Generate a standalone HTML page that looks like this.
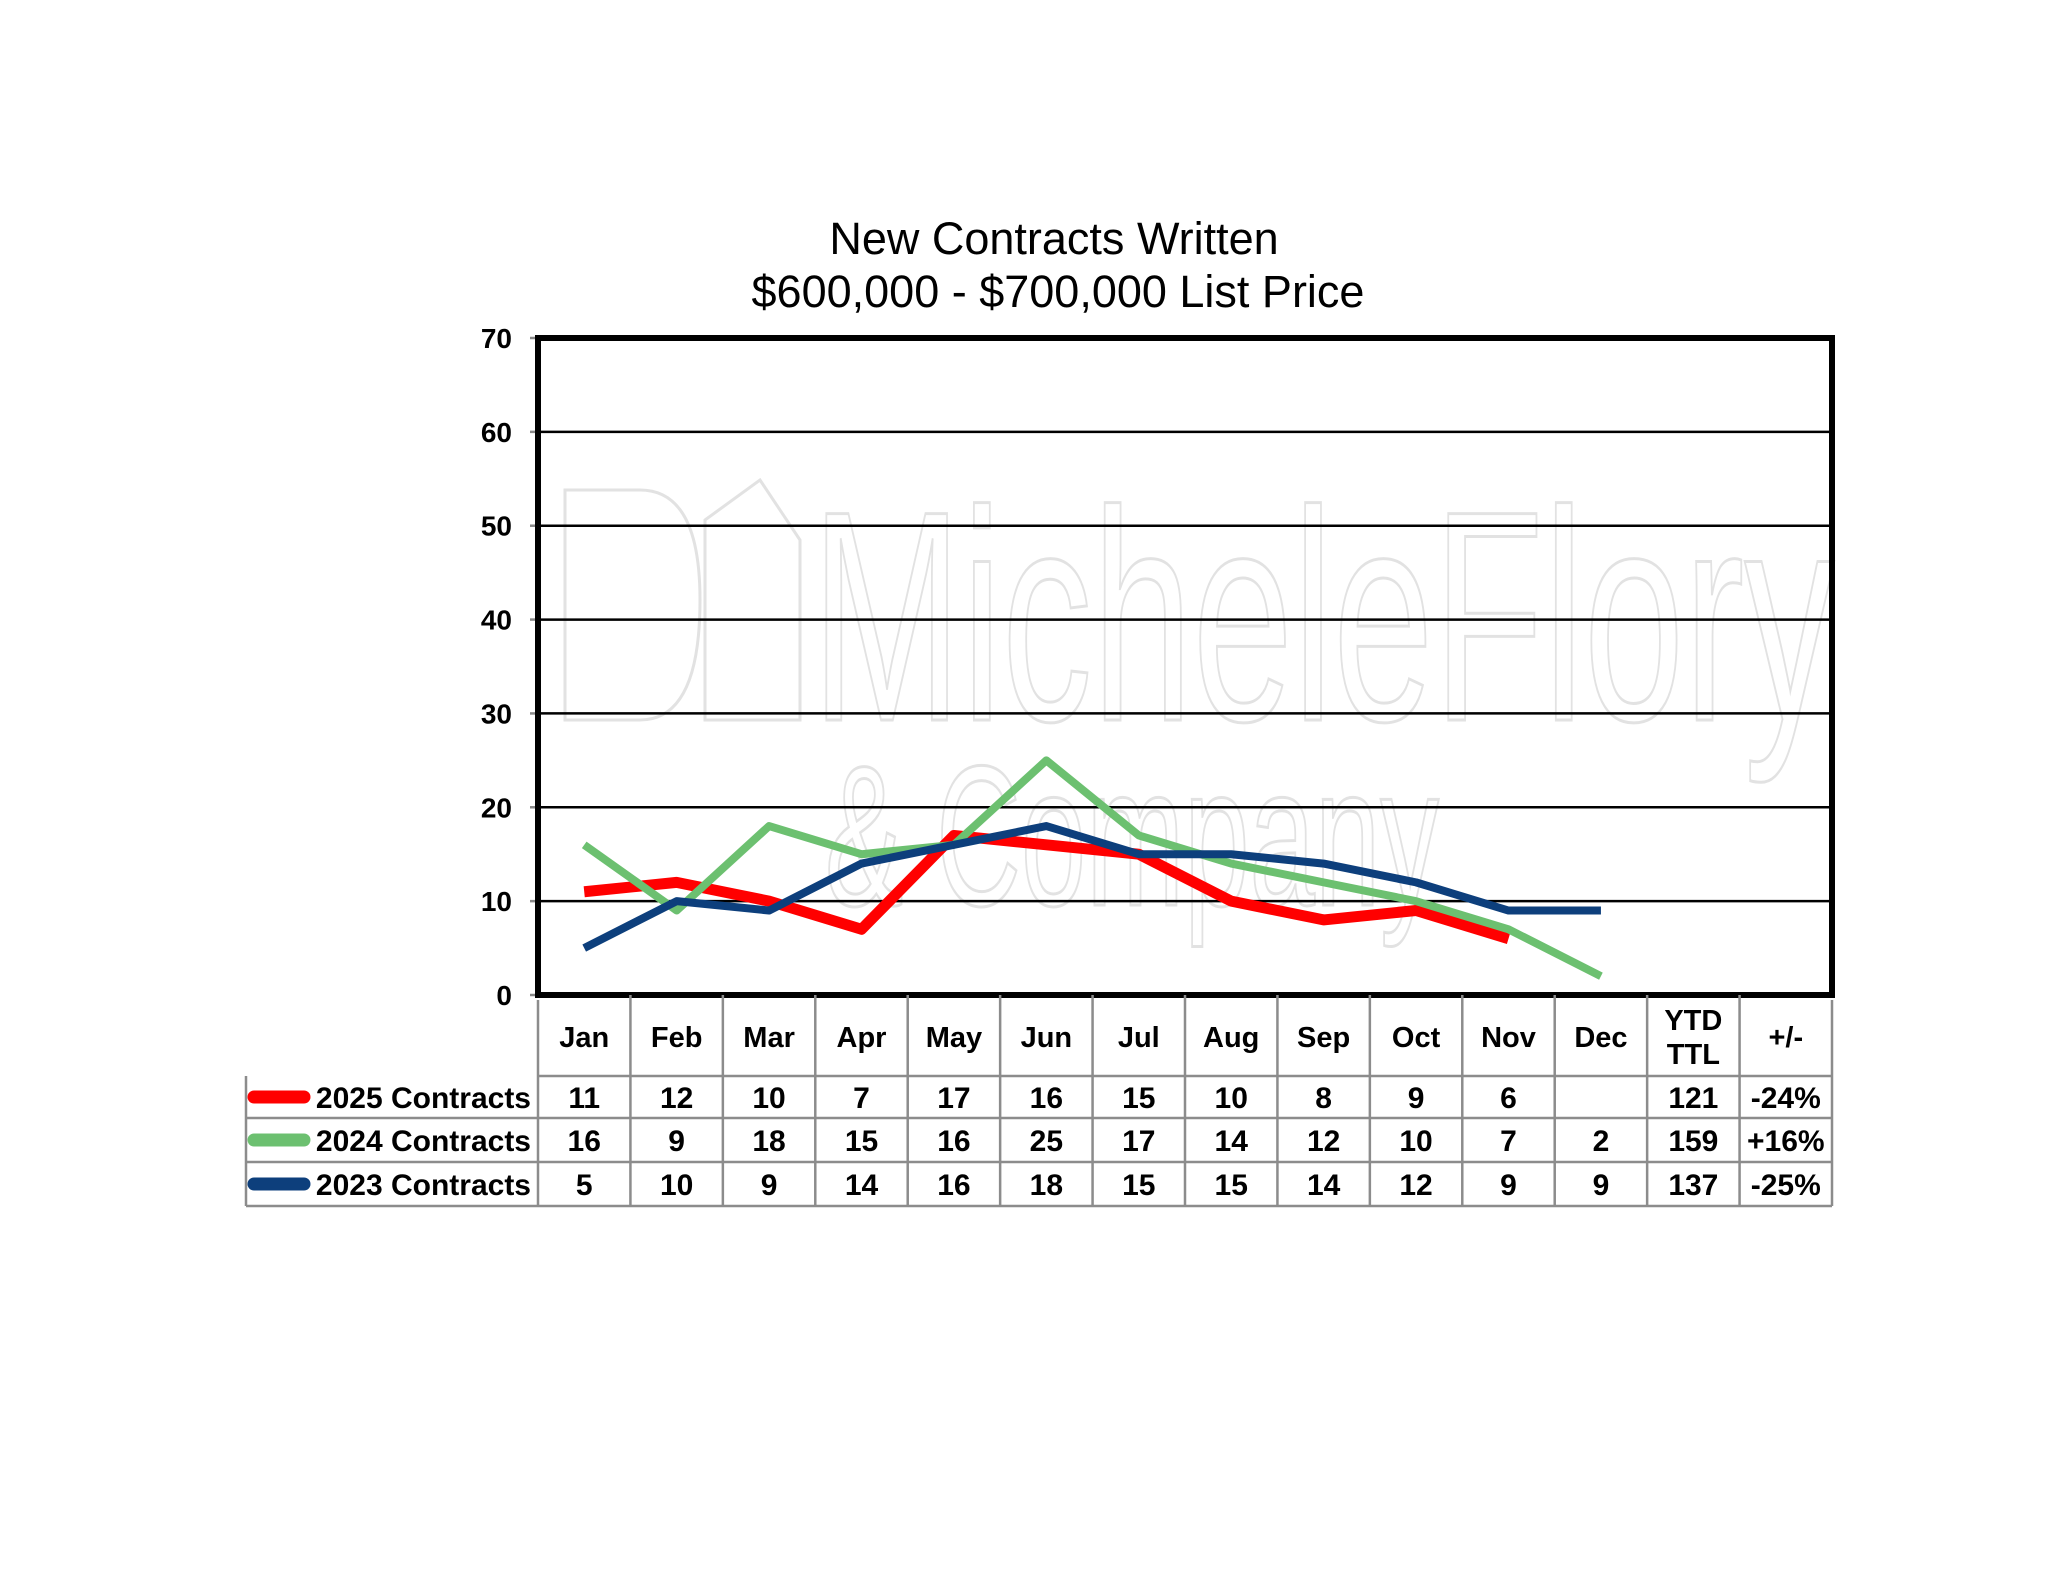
<!DOCTYPE html>
<html><head><meta charset="utf-8"><style>
html,body{margin:0;padding:0;background:#fff;}
svg{display:block;}
text{font-family:"Liberation Sans",Arial,sans-serif;}
</style></head><body>
<svg id="s" width="2048" height="1583" viewBox="0 0 2048 1583" xmlns="http://www.w3.org/2000/svg">
<rect width="2048" height="1583" fill="#fff"/>
<text x="1054" y="254" font-size="45" text-anchor="middle">New Contracts Written</text>
<text x="1058" y="307" font-size="45" text-anchor="middle">$600,000 - $700,000 List Price</text>
<g id="wm" fill="none" stroke="#e2e2e2" stroke-width="3">
<text x="1323" y="720" font-size="300" text-anchor="middle" textLength="1023" lengthAdjust="spacingAndGlyphs">MicheleFlory</text>
<text x="1132" y="905" font-size="200" text-anchor="middle" textLength="614" lengthAdjust="spacingAndGlyphs">&amp; Company</text>
<path d="M565 720 V490 H640 Q700 490 700 600 Q700 720 640 720 Z M705 520 L760 480 L800 540 V720 H705 Z"/>
</g>
<g id="grid"></g>
<g id="lines" fill="none" stroke-linejoin="round"></g>
<rect x="538" y="338" width="1294" height="657" fill="none" stroke="#000" stroke-width="6"/>
<g id="tbl"></g>
</svg>
<script>
var s=document.getElementById('s');
var NS='http://www.w3.org/2000/svg';
function el(t,a,txt,p){var e=document.createElementNS(NS,t);for(var k in a)e.setAttribute(k,a[k]);if(txt!=null)e.textContent=txt;(p||s).appendChild(e);return e;}
var L=538,R=1832,T=338,B=995,cw=(R-L)/14;
function Y(v){return B-v*(B-T)/70;}
function X(i){return L+cw*(i+0.5);}
var g=document.getElementById('grid');
for(var v=0;v<=70;v+=10){
 if(v>0&&v<70)el('line',{x1:L,x2:R,y1:Y(v),y2:Y(v),stroke:'#000','stroke-width':2.5},null,g);
 el('line',{x1:530,x2:L,y1:Y(v),y2:Y(v),stroke:'#888','stroke-width':2.5},null,g);
 el('text',{x:512,y:Y(v)+10,'font-size':28,'font-weight':'bold','text-anchor':'end'},String(v),g);
}
var d25=[11,12,10,7,17,16,15,10,8,9,6],d24=[16,9,18,15,16,25,17,14,12,10,7,2],d23=[5,10,9,14,16,18,15,15,14,12,9,9];
var ln=document.getElementById('lines');
function pl(d,c,w){var p=d.map(function(v,i){return X(i)+','+Y(v)}).join(' ');el('polyline',{points:p,stroke:c,'stroke-width':w},null,ln);}
pl(d25,'#ff0000',11);pl(d24,'#6cc070',8);pl(d23,'#0d3f7c',8);
var tb=document.getElementById('tbl');
var rows=[B,1076,1118,1162,1206];
var gc='#8c8c8c';
el('line',{x1:L,x2:R,y1:1076,y2:1076,stroke:gc,'stroke-width':2.5},null,tb);
for(var r=2;r<5;r++)el('line',{x1:246,x2:R,y1:rows[r],y2:rows[r],stroke:gc,'stroke-width':2.5},null,tb);
el('line',{x1:246,x2:246,y1:1076,y2:1206,stroke:gc,'stroke-width':2.5},null,tb);
for(var c=0;c<=14;c++){el('line',{x1:L+cw*c,x2:L+cw*c,y1:(c==0||c==14)?1000:B,y2:1206,stroke:gc,'stroke-width':2.5},null,tb);}
var hd=['Jan','Feb','Mar','Apr','May','Jun','Jul','Aug','Sep','Oct','Nov','Dec'];
hd.forEach(function(h,i){el('text',{x:X(i),y:1047,'font-size':29,'font-weight':'bold','text-anchor':'middle'},h,tb);});
el('text',{x:X(12),y:1030,'font-size':29,'font-weight':'bold','text-anchor':'middle'},'YTD',tb);
el('text',{x:X(12),y:1064,'font-size':29,'font-weight':'bold','text-anchor':'middle'},'TTL',tb);
el('text',{x:X(13),y:1047,'font-size':29,'font-weight':'bold','text-anchor':'middle'},'+/-',tb);
var data=[[d25,'121','-24%','2025 Contracts','#ff0000'],[d24,'159','+16%','2024 Contracts','#6cc070'],[d23,'137','-25%','2023 Contracts','#0d3f7c']];
data.forEach(function(r,k){
 var cy=(rows[k+1]+rows[k+2])/2, by=cy+11;
 r[0].forEach(function(v,i){el('text',{x:X(i),y:by,'font-size':30,'font-weight':'bold','text-anchor':'middle'},String(v),tb);});
 el('text',{x:X(12),y:by,'font-size':30,'font-weight':'bold','text-anchor':'middle'},r[1],tb);
 el('text',{x:X(13),y:by,'font-size':30,'font-weight':'bold','text-anchor':'middle'},r[2],tb);
 el('line',{x1:254,x2:304,y1:cy,y2:cy,stroke:r[4],'stroke-width':13,'stroke-linecap':'round'},null,tb);
 el('text',{x:531,y:by,'font-size':30,'font-weight':'bold','text-anchor':'end'},r[3],tb);
});
</script>
</body></html>
